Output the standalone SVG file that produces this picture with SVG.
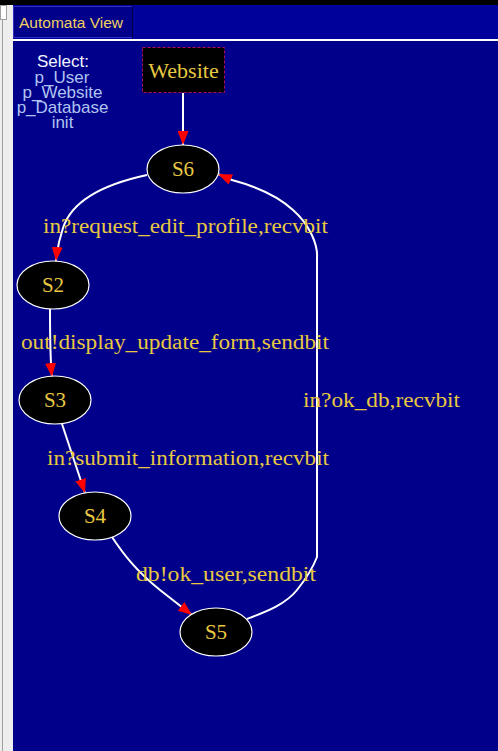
<svg xmlns="http://www.w3.org/2000/svg" width="498" height="751" viewBox="0 0 498 751">
<style>
.node ellipse{fill:#000000;stroke:#ffffff;stroke-width:1.2}
.nlabel{font-family:"Liberation Serif","Times New Roman",serif;font-size:21px;fill:#e8c840;text-anchor:middle}
.elabel{font-family:"Liberation Serif","Times New Roman",serif;font-size:20.5px;fill:#e8c840}
.edge{fill:none;stroke:#ffffff;stroke-width:2}
.sel{font-family:"Liberation Sans",Arial,sans-serif;font-size:17px;text-anchor:middle;fill:#b0c4f0}
</style>
<defs>
<marker id="ah" viewBox="0 0 14 11" refX="14" refY="5.5" markerWidth="14" markerHeight="11" markerUnits="userSpaceOnUse" orient="auto">
<path d="M0,0 L14,5.5 L0,11 z" fill="#ff0000"/>
</marker>
</defs>
<!-- frame -->
<rect x="0" y="0" width="498" height="751" fill="#00008b"/>
<rect x="0" y="0" width="13" height="751" fill="#eeeeee"/>
<line x1="2.5" y1="20" x2="2.5" y2="751" stroke="#a0a0a0" stroke-width="1"/>
<rect x="0.5" y="5.5" width="6" height="14" fill="#ffffff" stroke="#a0a0a0" stroke-width="1"/>
<rect x="0" y="0" width="498" height="5" fill="#000000"/>
<rect x="13" y="5" width="485" height="34" fill="#00009a"/>
<rect x="13.5" y="6.5" width="119" height="31" fill="#00008b" stroke="#3030c0" stroke-width="1"/>
<line x1="132.5" y1="6" x2="132.5" y2="38" stroke="#000040" stroke-width="1"/>
<text x="19" y="28" font-family="'Liberation Sans',Arial,sans-serif" font-size="15.5px" fill="#f0d060">Automata View</text>
<line x1="13" y1="40" x2="498" y2="40" stroke="#ffffff" stroke-width="2"/>
<!-- select panel -->
<g id="select">
<text class="sel" x="63" y="67" style="fill:#f4f4ff">Select:</text>
<text class="sel" x="62" y="82.5">p_User</text>
<text class="sel" x="62.5" y="97.5">p_Website</text>
<text class="sel" x="62.5" y="112.5">p_Database</text>
<text class="sel" x="62.5" y="127.5">init</text>
</g>
<!-- connectors -->
<g id="edges">
<path class="edge" d="M183,93 L183,145" marker-end="url(#ah)"/>
<path class="edge" d="M147,175 C105,184 72,200 63,228 C59,240 57,250 56,261" marker-end="url(#ah)"/>
<path class="edge" d="M50,309 C50,335 50,358 52,377" marker-end="url(#ah)"/>
<path class="edge" d="M62,424 L85,493" marker-end="url(#ah)"/>
<path class="edge" d="M112,537 C122,552 135,570 160,590 L192,615" marker-end="url(#ah)"/>
<path class="edge" d="M247,619 C265,612 285,605 297,590 C305,580 312,570 317,557 L317,258 C318,245 310,225 293,210 C280,198 262,188 232,180 L218,174" marker-end="url(#ah)"/>
<text class="elabel" x="43" y="233" textLength="285" lengthAdjust="spacingAndGlyphs">in?request_edit_profile,recvbit</text>
<text class="elabel" x="21" y="349" textLength="308" lengthAdjust="spacingAndGlyphs">out!display_update_form,sendbit</text>
<text class="elabel" x="303" y="407" textLength="157" lengthAdjust="spacingAndGlyphs">in?ok_db,recvbit</text>
<text class="elabel" x="47" y="465" textLength="282" lengthAdjust="spacingAndGlyphs">in?submit_information,recvbit</text>
<text class="elabel" x="136" y="581" textLength="180" lengthAdjust="spacingAndGlyphs">db!ok_user,sendbit</text>
</g>
<!-- nodes -->
<g id="Website">
<rect x="142.5" y="47.5" width="82" height="45" fill="#000000" stroke="#b01050" stroke-width="1" stroke-dasharray="3,2"/>
<text class="nlabel" x="183.5" y="78" style="font-size:22px">Website</text>
</g>
<g id="S6" class="node">
<ellipse cx="183" cy="169" rx="36" ry="24"/>
<text class="nlabel" x="183" y="176">S6</text>
</g>
<g id="S2" class="node">
<ellipse cx="53" cy="285" rx="36" ry="24"/>
<text class="nlabel" x="53" y="292">S2</text>
</g>
<g id="S3" class="node">
<ellipse cx="55" cy="400" rx="36" ry="24"/>
<text class="nlabel" x="55" y="407">S3</text>
</g>
<g id="S4" class="node">
<ellipse cx="95" cy="516" rx="36" ry="24"/>
<text class="nlabel" x="95" y="523">S4</text>
</g>
<g id="S5" class="node">
<ellipse cx="216" cy="632" rx="36" ry="24"/>
<text class="nlabel" x="216" y="639">S5</text>
</g>
</svg>
